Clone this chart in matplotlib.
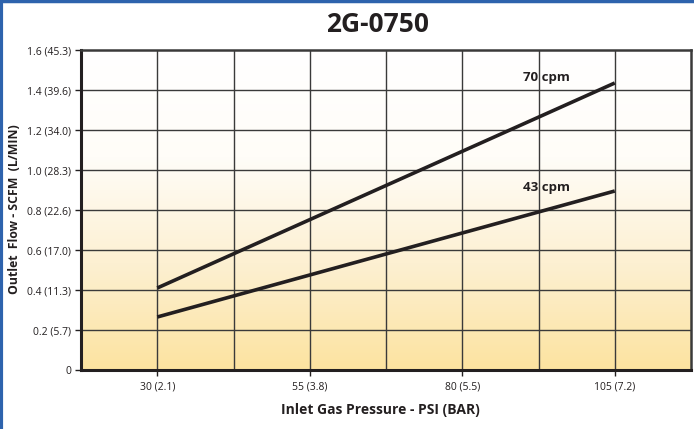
import matplotlib.pyplot as plt
import numpy as np
from matplotlib.colors import LinearSegmentedColormap
from matplotlib.lines import Line2D

plt.rcParams['font.family'] = ['Open Sans', 'DejaVu Sans']

pressure = [30, 105]
flow_70 = [0.41, 1.435]
flow_43 = [0.265, 0.895]
xticks = [30, 55, 80, 105]
xlabels = ["30 (2.1)", "55 (3.8)", "80 (5.5)", "105 (7.2)"]
yticks = [0, 0.2, 0.4, 0.6, 0.8, 1.0, 1.2, 1.4, 1.6]
ylabels = ["0", "0.2 (5.7)", "0.4 (11.3)", "0.6 (17.0)", "0.8 (22.6)",
           "1.0 (28.3)", "1.2 (34.0)", "1.4 (39.6)", "1.6 (45.3)"]

fig = plt.figure(figsize=(6.94, 4.29), dpi=100)
ax = fig.add_axes([81 / 694, 1 - 370 / 429, 610 / 694, 320 / 429])
ax.set_xlim(17.5, 117.5)
ax.set_ylim(0, 1.6)

# background gradient, white at top to pale orange at bottom
cmap = LinearSegmentedColormap.from_list("bg", ["#ffffff", "#fffdf8", "#fdf0d2", "#fce3a0"])
grad = np.linspace(0, 1, 256).reshape(-1, 1)
ax.imshow(grad, extent=[17.5, 117.5, 0, 1.6], aspect='auto', cmap=cmap,
          vmin=0, vmax=1, zorder=0)

# grid
for gx in np.arange(30, 117.5, 12.5):
    ax.axvline(gx, color='#3a3a3a', lw=1.0, zorder=1)
for gy in yticks[1:-1]:
    ax.axhline(gy, color='#3a3a3a', lw=1.0, zorder=1)

ax.plot(pressure, flow_70, color='#231f20', lw=2.6, solid_capstyle='butt', zorder=3)
ax.plot(pressure, flow_43, color='#231f20', lw=2.6, solid_capstyle='butt', zorder=3)
ax.text(93.8, 1.46, "70 cpm", fontsize=9.5, fontweight='bold', ha='center',
        va='center', color='#231f20', zorder=4)
ax.text(93.8, 0.91, "43 cpm", fontsize=9.5, fontweight='bold', ha='center',
        va='center', color='#231f20', zorder=4)

ax.set_xticks(xticks)
ax.set_xticklabels(xlabels, fontsize=7.5, color='#231f20')
ax.set_yticks(yticks)
ax.set_yticklabels(ylabels, fontsize=7.5, color='#231f20')
ax.tick_params(axis='x', length=4, width=1, color='#231f20', pad=4)
ax.tick_params(axis='y', length=4, width=1, color='#231f20', pad=3)

for side in ['left', 'bottom']:
    ax.spines[side].set_linewidth(2.2)
    ax.spines[side].set_color('#231f20')
for side in ['top', 'right']:
    ax.spines[side].set_linewidth(1.8)
    ax.spines[side].set_color('#3a3a3a')

fig.text(380 / 694, 1 - 410 / 429, "Inlet Gas Pressure - PSI (BAR)", fontsize=10,
         fontweight='bold', color='#231f20', ha='center', va='center')
fig.text(15 / 694, 1 - 209 / 429, "Outlet  Flow - SCFM  (L/MIN)", fontsize=8.8,
         fontweight='bold', color='#231f20', ha='center', va='center', rotation=90)
fig.text(378 / 694, 1 - 25 / 429, "2G-0750", fontsize=19, fontweight='bold',
         ha='center', va='center', color='#231f20')

# blue frame on the left and top edges
fig.add_artist(Line2D([0.002, 0.002], [0, 1], transform=fig.transFigure,
                      color='#2e63ad', lw=3))
fig.add_artist(Line2D([0, 1], [0.998, 0.998], transform=fig.transFigure,
                      color='#2e63ad', lw=2.5))

fig.savefig("out.png", dpi=100)
